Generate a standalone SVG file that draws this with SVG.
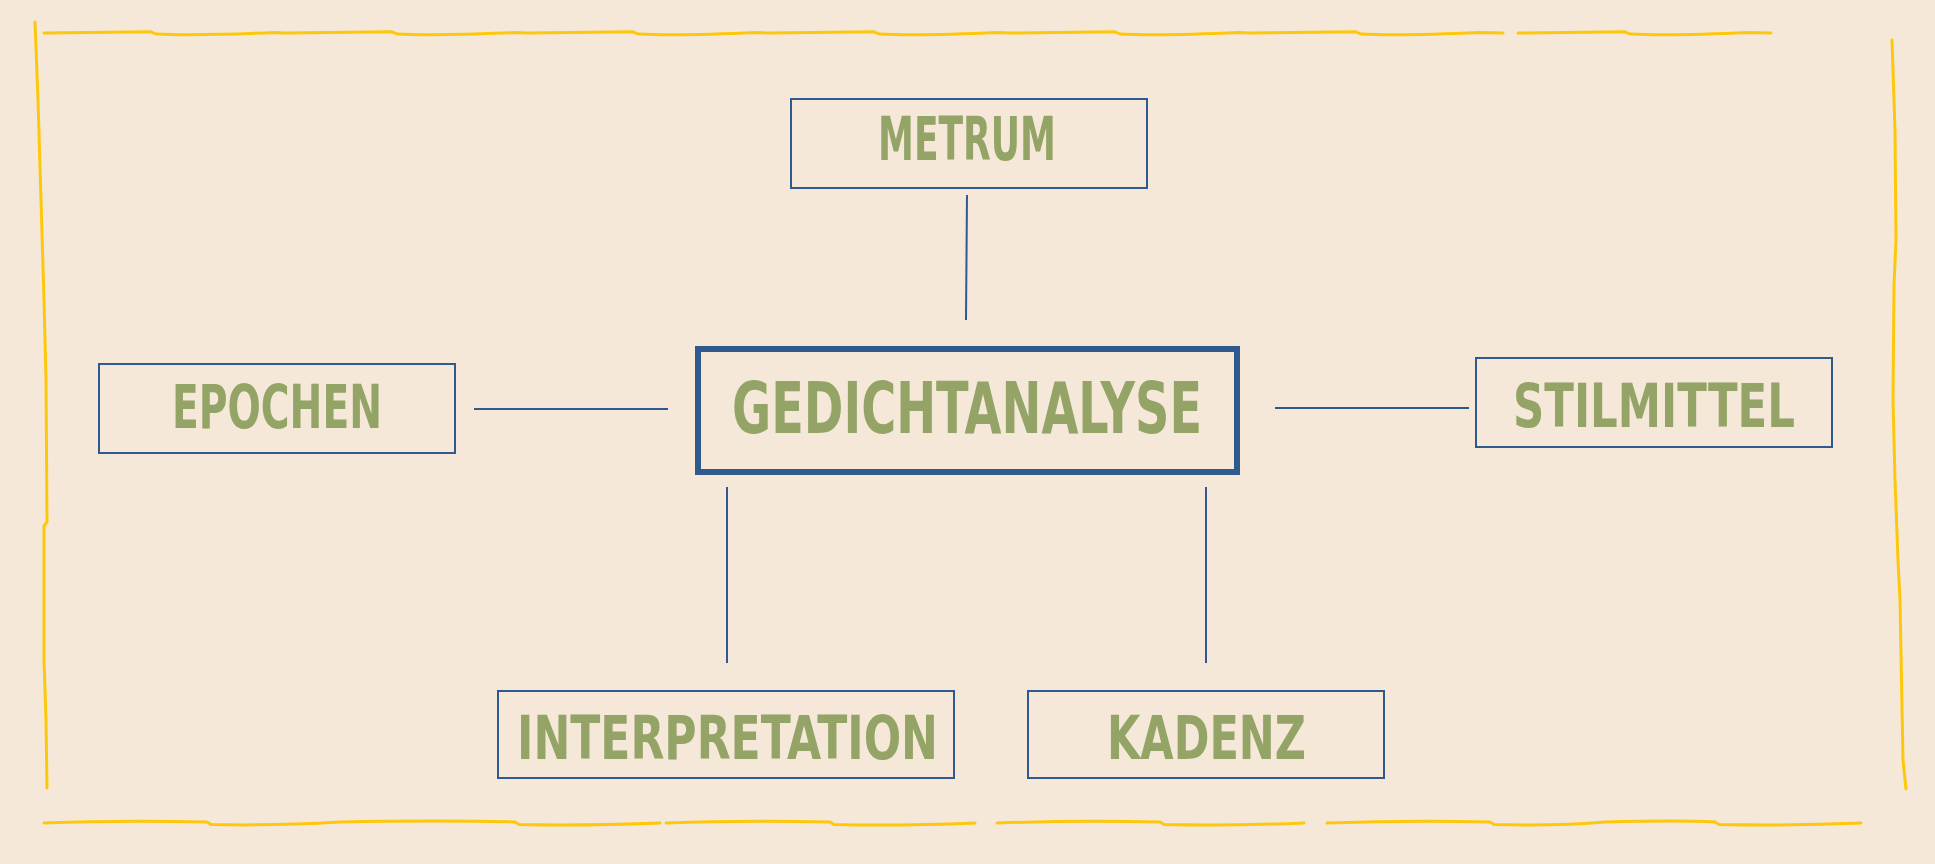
<svg xmlns="http://www.w3.org/2000/svg" width="1935" height="864" viewBox="0 0 1935 864">
<style>
.bg{fill:#f5e8d9}
.frame{fill:none;stroke:#fdc80b;stroke-width:3;stroke-linecap:round;stroke-linejoin:round}
.box{fill:none;stroke:#2e5a8e;stroke-width:2}
.main{fill:none;stroke:#2e5a8e;stroke-width:6}
.con line{stroke:#2e5a8e;stroke-width:2}
.lbl{font-family:"Liberation Sans Narrow","DejaVu Sans Condensed","Liberation Sans",sans-serif;font-weight:bold;fill:#94a466;font-size:60px}
.big{font-size:71px}
</style>
<rect class="bg" x="0" y="0" width="1935" height="864"/>
<g id="frame">
<path class="frame" d="M44,33 L151,31.8 L156,34 Q195,36 275,32.5 L285,33 L392,31.8 L397,34 Q436,36 516,32.5 L526,33 L633,31.8 L638,34 Q677,36 757,32.5 L767,33 L874,31.8 L879,34 Q918,36 998,32.5 L1008,33 L1115,31.8 L1120,34 Q1159,36 1239,32.5 L1249,33 L1356,31.8 L1361,34 Q1400,36 1480,32.5 L1503,33"/>
<path class="frame" d="M1518,33 L1625,31.8 L1630,34 Q1669,36 1749,32.5 L1771,33"/>
<path class="frame" d="M44,823 Q120,820 207,822 L211,824.5 Q270,826 340,822 Q440,820 515,822 L519,824.5 Q580,826 660,823"/>
<path class="frame" d="M666,823 Q740,820 830,822 L834,824.5 Q900,826 975,823"/>
<path class="frame" d="M997,823 Q1080,820 1160,822 L1164,824.5 Q1230,826 1304,823"/>
<path class="frame" d="M1327,823 Q1410,820 1490,822 L1494,824.5 Q1560,826 1605,822 Q1680,820 1715,822 L1719,824.5 Q1790,826 1861,823"/>
<path class="frame" d="M35,22 L38,100 L41,200 L44,300 L46,380 L47,522 L44,526 L44,660 L46,720 L47,788"/>
<path class="frame" d="M1892,40 L1895,130 L1896,240 L1894,285 L1893,400 L1895,480 L1898,560 L1900,600 L1903,760 L1906,789"/>
</g>
<g class="con" id="connectors">
<line x1="967" y1="195" x2="966" y2="320"/>
<line x1="474" y1="409" x2="668" y2="409"/>
<line x1="1275" y1="408" x2="1469" y2="408"/>
<line x1="727" y1="487" x2="727" y2="663"/>
<line x1="1206" y1="487" x2="1206" y2="663"/>
</g>
<g id="node-gedichtanalyse">
<rect class="main" x="698" y="349" width="539" height="123"/>
<text class="lbl big" x="732" y="433" textLength="470" lengthAdjust="spacingAndGlyphs">GEDICHTANALYSE</text>
</g>
<g id="node-metrum">
<rect class="box" x="791" y="99" width="356" height="89"/>
<text class="lbl" x="878" y="160" textLength="178" lengthAdjust="spacingAndGlyphs">METRUM</text>
</g>
<g id="node-epochen">
<rect class="box" x="99" y="364" width="356" height="89"/>
<text class="lbl" x="172" y="428" textLength="210" lengthAdjust="spacingAndGlyphs">EPOCHEN</text>
</g>
<g id="node-stilmittel">
<rect class="box" x="1476" y="358" width="356" height="89"/>
<text class="lbl" x="1513" y="427" textLength="282" lengthAdjust="spacingAndGlyphs">STILMITTEL</text>
</g>
<g id="node-interpretation">
<rect class="box" x="498" y="691" width="456" height="87"/>
<text class="lbl" x="517" y="759" textLength="421" lengthAdjust="spacingAndGlyphs">INTERPRETATION</text>
</g>
<g id="node-kadenz">
<rect class="box" x="1028" y="691" width="356" height="87"/>
<text class="lbl" x="1107" y="759" textLength="199" lengthAdjust="spacingAndGlyphs">KADENZ</text>
</g>
</svg>
